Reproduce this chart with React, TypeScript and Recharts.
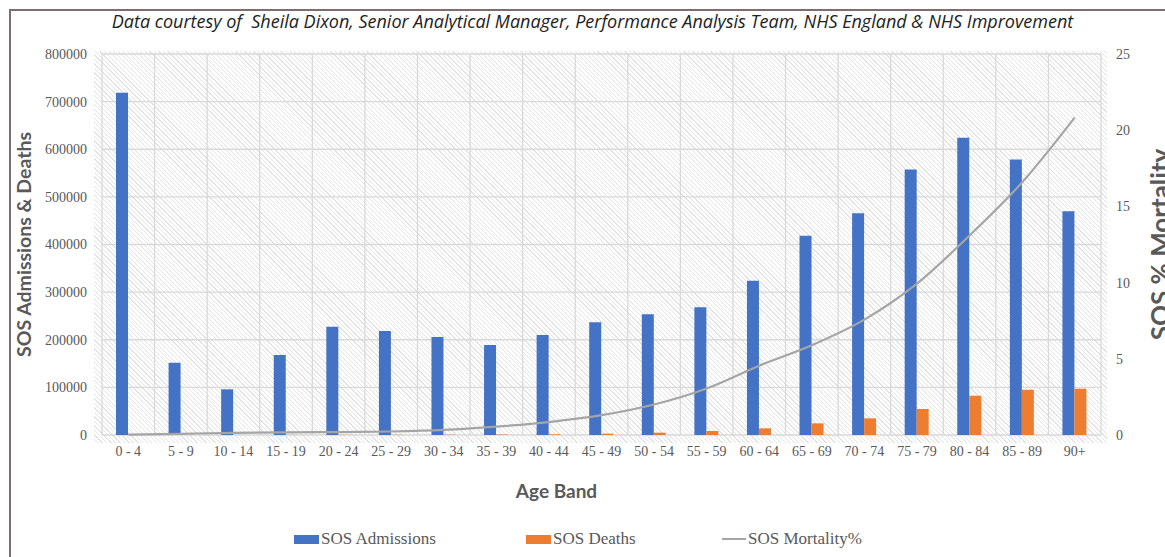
import {
  Bar,
  CartesianGrid,
  ComposedChart,
  Line,
  XAxis,
  YAxis,
} from "recharts"

const ageBands = [
  "0 - 4", "5 - 9", "10 - 14", "15 - 19", "20 - 24", "25 - 29", "30 - 34",
  "35 - 39", "40 - 44", "45 - 49", "50 - 54", "55 - 59", "60 - 64", "65 - 69",
  "70 - 74", "75 - 79", "80 - 84", "85 - 89", "90+",
]

const admissions = [
  718500, 151800, 95900, 168000, 227400, 218300, 205700, 188900, 209900,
  236500, 253300, 268000, 323900, 418400, 465400, 557700, 624100, 578700, 469600,
]

const deaths = [
  200, 120, 130, 280, 430, 500, 680, 1040, 1500, 2800, 4900, 8400, 14000,
  24500, 35000, 54600, 82500, 95100, 97200,
]

const mortality = [
  0.03, 0.08, 0.14, 0.17, 0.19, 0.23, 0.33, 0.55, 0.85, 1.3, 2.0, 3.05, 4.55,
  5.89, 7.57, 9.93, 13.09, 16.58, 20.83,
]

const leftTicks = [0, 100000, 200000, 300000, 400000, 500000, 600000, 700000, 800000]
const rightTicks = [0, 5, 10, 15, 20, 25]

const chartData = ageBands.map((band, i) => ({
  band,
  admissions: admissions[i],
  deaths: deaths[i],
  mortality: mortality[i],
}))

const BLUE = "#4472c4"
const ORANGE = "#ed7d31"
const GREY = "#a5a5a5"
const TEXT = "#595959"
const serif = "'Liberation Serif', 'Times New Roman', serif"
const sans = "Lato, 'Open Sans', sans-serif"

const tickStyle = { fill: TEXT, fontFamily: serif, fontSize: 14 }

function LegendRow() {
  const item = { position: "absolute" as const, top: 529, fontFamily: serif, fontSize: 17, color: TEXT, display: "flex", alignItems: "center", whiteSpace: "nowrap" as const }
  return (
    <>
      <div style={{ ...item, left: 294 }}>
        <span style={{ width: 25, height: 9, background: BLUE, display: "inline-block", marginRight: 2 }} />
        SOS Admissions
      </div>
      <div style={{ ...item, left: 526 }}>
        <span style={{ width: 25, height: 9, background: ORANGE, display: "inline-block", marginRight: 2 }} />
        SOS Deaths
      </div>
      <div style={{ ...item, left: 722 }}>
        <span style={{ width: 24, height: 2, background: GREY, display: "inline-block", marginRight: 2 }} />
        SOS Mortality%
      </div>
    </>
  )
}

export default function App() {
  return (
    <div style={{ position: "absolute", left: 0, top: 0, width: 1165, height: 557, overflow: "hidden", background: "#fff" }}>
      <div style={{ position: "absolute", left: 9, top: 9, width: 1300, height: 700, borderLeft: "2px solid #7d6d6e", borderTop: "2px solid #7d6d6e" }} />
      <div
        style={{
          position: "absolute", left: 94, top: 51, width: 1013, height: 392,
          background: "repeating-linear-gradient(45deg, #ffffff 0px, #ffffff 2.3px, #e4e4e4 2.3px, #e4e4e4 3.2px)",
        }}
      />
      <div
        style={{
          position: "absolute", left: 0, top: 9, width: 1185, textAlign: "center",
          fontFamily: "'Open Sans', sans-serif", fontStyle: "italic", fontSize: 18,
          color: "#222", whiteSpace: "pre",
        }}
      >
        {"Data courtesy of  Sheila Dixon, Senior Analytical Manager, Performance Analysis Team, NHS England & NHS Improvement"}
      </div>
      <div style={{ position: "absolute", left: 0, top: 0 }}>
        <ComposedChart
          width={1165}
          height={557}
          data={chartData}
          margin={{ top: 54, right: 0, bottom: 92, left: 0 }}
          barGap={0}
        >
          <CartesianGrid
            stroke="#d9d9d9"
            strokeWidth={1.3}
            yAxisId="left"
            verticalCoordinatesGenerator={({ offset }: any) =>
              ageBands.map((_, i) => offset.left + (i * offset.width) / ageBands.length).concat(offset.left + offset.width)
            }
          />
          <XAxis
            dataKey="band"
            interval={0}
            axisLine={false}
            tickLine={false}
            tickSize={0}
            tickMargin={11}
            height={30}
            tick={tickStyle}
            label={{
              value: "Age Band",
              position: "bottom",
              offset: 20,
              dx: -45,
              style: { fill: TEXT, fontFamily: sans, fontWeight: 700, fontSize: 19 },
            }}
          />
          <YAxis
            yAxisId="left"
            domain={[0, 800000]}
            ticks={leftTicks}
            width={102}
            axisLine={false}
            tickLine={false}
            tickSize={0}
            tickMargin={15}
            tick={tickStyle}
            label={{
              value: "SOS Admissions & Deaths",
              angle: -90,
              position: "insideLeft",
              offset: 24,
              style: { textAnchor: "middle", fill: TEXT, fontFamily: sans, fontWeight: 700, fontSize: 19.5 },
            }}
          />
          <YAxis
            yAxisId="right"
            orientation="right"
            domain={[0, 25]}
            ticks={rightTicks}
            width={64}
            axisLine={false}
            tickLine={false}
            tickSize={0}
            tickMargin={15}
            tick={tickStyle}
            label={{
              value: "SOS % Mortality",
              angle: -90,
              position: "insideRight",
              offset: 4,
              style: { textAnchor: "middle", fill: TEXT, fontFamily: sans, fontWeight: 700, fontSize: 26 },
            }}
          />
          <Bar yAxisId="left" dataKey="admissions" name="SOS Admissions" fill={BLUE} barSize={12} isAnimationActive={false} />
          <Bar yAxisId="left" dataKey="deaths" name="SOS Deaths" fill={ORANGE} barSize={12} isAnimationActive={false} />
          <Line
            yAxisId="right"
            type="monotone"
            dataKey="mortality"
            name="SOS Mortality%"
            stroke={GREY}
            strokeWidth={2.2}
            dot={false}
            activeDot={false}
            isAnimationActive={false}
          />
        </ComposedChart>
      </div>
      <LegendRow />
    </div>
  )
}
